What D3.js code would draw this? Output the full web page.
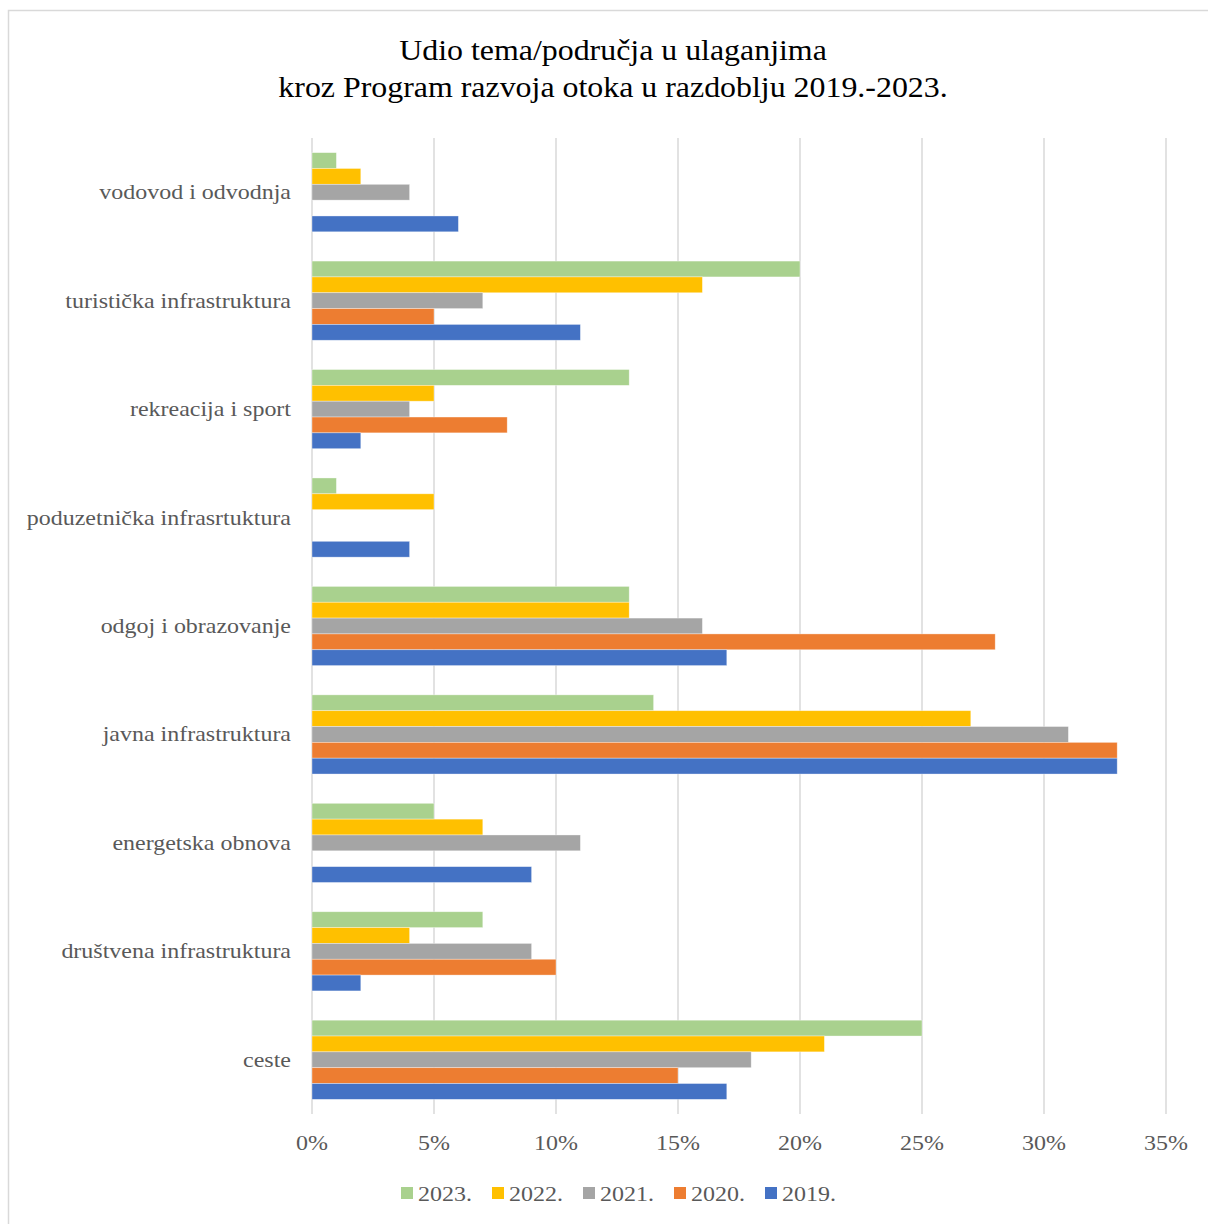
<!DOCTYPE html>
<html>
<head>
<meta charset="utf-8">
<script src="https://cdn.jsdelivr.net/npm/d3@7"></script>
<style>
	body { margin: 0; background: #fff; }
	text { font-family: "Liberation Serif", "Times New Roman", serif; }
</style>
</head>
<body>
<svg id="chart"></svg>
<script>
//categories, top to bottom
var categories = ["vodovod i odvodnja", "turistička infrastruktura", "rekreacija i sport",
	"poduzetnička infrasrtuktura", "odgoj i obrazovanje", "javna infrastruktura",
	"energetska obnova", "društvena infrastruktura", "ceste"];

//series (legend order), values in % per category
var seriesNames = ["2023.", "2022.", "2021.", "2020.", "2019."];
var v2023 = [1, 20, 13, 1, 13, 14, 5, 7, 25];
var v2022 = [2, 16, 5, 5, 13, 27, 7, 4, 21];
var v2021 = [4, 7, 4, 0, 16, 31, 11, 9, 18];
var v2020 = [0, 5, 8, 0, 28, 33, 0, 10, 15];
var v2019 = [6, 11, 2, 4, 17, 33, 9, 2, 17];
var seriesColors = ["#A9D18E", "#FFC000", "#A5A5A5", "#ED7D31", "#4472C4"];
var xTicks = [0, 5, 10, 15, 20, 25, 30, 35];

var titleLines = ["Udio tema/područja u ulaganjima", "kroz Program razvoja otoka u razdoblju 2019.-2023."];

var width = 1208, height = 1224;
var series = [v2023, v2022, v2021, v2020, v2019];
//the source text is a bit wider than plain Times
var sx = 1.09;

var svg = d3.select("#chart").attr("width", width).attr("height", height);

//chart border
svg.append("rect").attr("x", 8.5).attr("y", 10.5).attr("width", 1220).attr("height", 1240)
	.style("fill", "#fff").style("stroke", "#d9d9d9").style("stroke-width", 1.5);

//title
svg.append("g").attr("transform", "translate(613,60) scale(1.1,1)")
	.append("text").attr("text-anchor", "middle").style("font-size", "29px").style("fill", "#000")
	.selectAll("tspan").data(titleLines).enter().append("tspan")
	.attr("x", 0).attr("dy", function(d, i) { return i ? 37.5 : 0; })
	.text(function(d) { return d; });

//scales
var x = d3.scaleLinear().domain([0, 35]).range([312, 1166]);
var y = d3.scaleBand().domain(categories).range([138, 1114]).paddingInner(0.27).paddingOuter(0.135);
var ySub = d3.scaleBand().domain(d3.range(series.length)).range([0, y.bandwidth()]);

//gridlines
svg.append("g").selectAll("line").data(xTicks).enter().append("line")
	.attr("x1", function(d) { return x(d); }).attr("x2", function(d) { return x(d); })
	.attr("y1", 138).attr("y2", 1114)
	.style("stroke", "#d9d9d9").style("stroke-width", 1.5);

//bars
var gBars = svg.append("g");
series.forEach(function(vals, s) {
	gBars.append("g").selectAll("rect").data(vals).enter().append("rect")
		.attr("x", x(0))
		.attr("y", function(d, i) { return y(categories[i]) + ySub(s); })
		.attr("width", function(d) { return x(d) - x(0); })
		.attr("height", ySub.bandwidth())
		.style("fill", seriesColors[s])
		.style("stroke", function(d) { return d ? "#fff" : "none"; })
		.style("stroke-opacity", 0.5).style("stroke-width", 0.7);
});

//x axis tick labels
svg.append("g").selectAll("text").data(xTicks).enter().append("text")
	.attr("transform", function(d) { return "translate(" + x(d) + ",1150) scale(" + sx + ",1)"; })
	.attr("text-anchor", "middle").style("font-size", "22px").style("fill", "#595959")
	.text(function(d) { return d + "%"; });

//category labels
svg.append("g").selectAll("text").data(categories).enter().append("text")
	.attr("transform", function(d) { return "translate(291," + (y(d) + y.bandwidth() / 2 + 7) + ") scale(" + sx + ",1)"; })
	.attr("text-anchor", "end").style("font-size", "22px").style("fill", "#595959")
	.text(function(d) { return d; });

//legend
var leg = svg.append("g").selectAll("g").data(seriesNames).enter().append("g")
	.attr("transform", function(d, i) { return "translate(" + (401 + i * 91) + ",1187)"; });
leg.append("rect").attr("width", 12).attr("height", 12)
	.style("fill", function(d, i) { return seriesColors[i]; });
leg.append("text").attr("transform", "translate(17,13.5) scale(" + sx + ",1)")
	.style("font-size", "22px").style("fill", "#595959")
	.text(function(d) { return d; });
</script>
</body>
</html>
